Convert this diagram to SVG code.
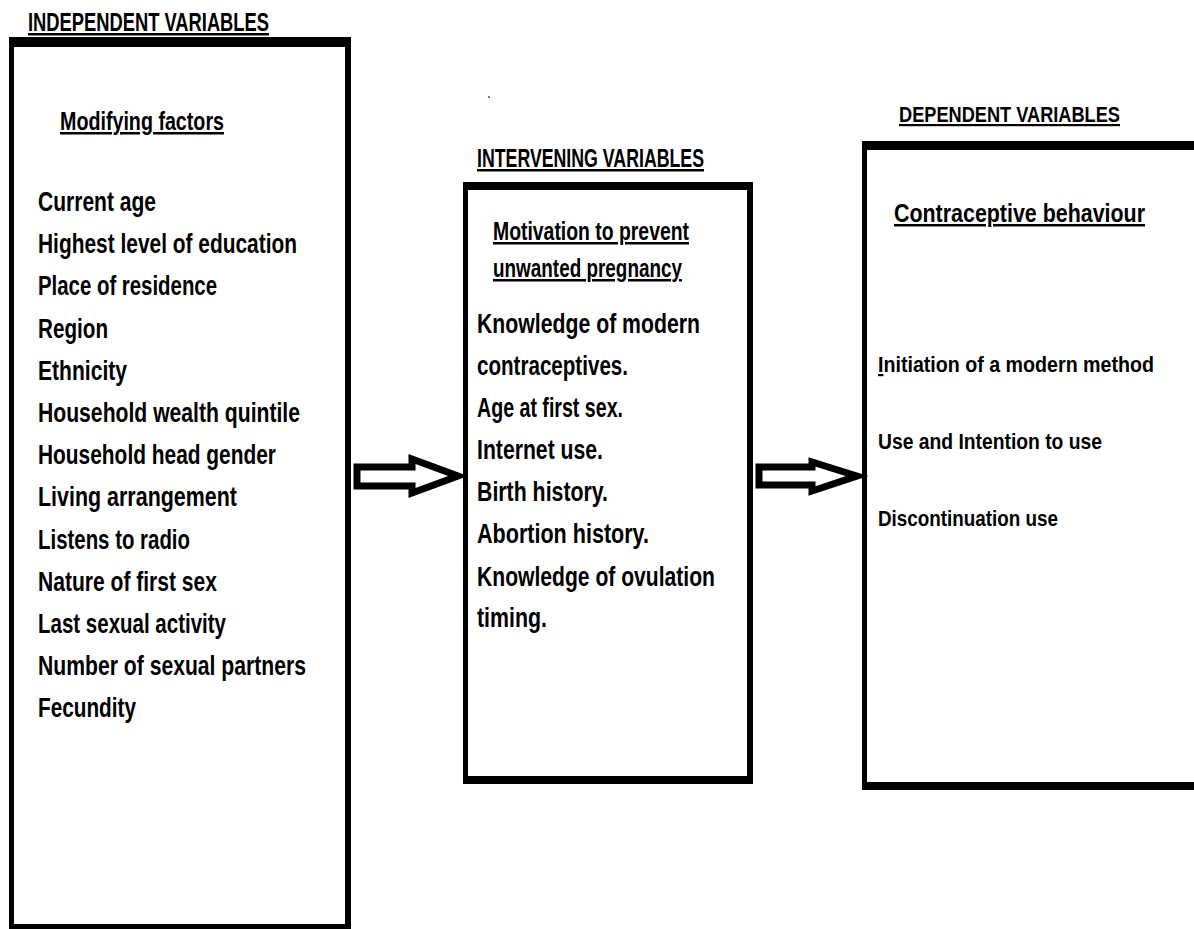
<svg xmlns="http://www.w3.org/2000/svg" width="1194" height="929" viewBox="0 0 1194 929">
<style>
text{font-family:"Liberation Sans",Arial,sans-serif;font-weight:bold;fill:#000;}
.h{font-size:25px;text-decoration:underline;}
.hr{font-size:22px;text-decoration:underline;}
.sub{font-size:25px;text-decoration:underline;}
.li{font-size:27px;}
.lr{font-size:22px;}
.frame{fill:#000;}
.inner{fill:#fff;}
.arrow{fill:#fff;stroke:#000;stroke-width:7;stroke-linejoin:miter;}
</style>
<rect width="1194" height="929" fill="#fff"/>
<g id="independent">
<text class="h" x="28" y="31" textLength="241" lengthAdjust="spacingAndGlyphs">INDEPENDENT VARIABLES</text>
<rect class="frame" x="9" y="37" width="342" height="895"/>
<rect class="inner" x="14" y="47" width="331" height="877"/>
<text class="sub" x="60" y="130" textLength="164" lengthAdjust="spacingAndGlyphs">Modifying factors</text>
<text class="li" x="38" y="211" textLength="118" lengthAdjust="spacingAndGlyphs">Current age</text>
<text class="li" x="38" y="253" textLength="259" lengthAdjust="spacingAndGlyphs">Highest level of education</text>
<text class="li" x="38" y="295" textLength="179" lengthAdjust="spacingAndGlyphs">Place of residence</text>
<text class="li" x="38" y="338" textLength="70" lengthAdjust="spacingAndGlyphs">Region</text>
<text class="li" x="38" y="380" textLength="89" lengthAdjust="spacingAndGlyphs">Ethnicity</text>
<text class="li" x="38" y="422" textLength="262" lengthAdjust="spacingAndGlyphs">Household wealth quintile</text>
<text class="li" x="38" y="464" textLength="238" lengthAdjust="spacingAndGlyphs">Household head gender</text>
<text class="li" x="38" y="506" textLength="199" lengthAdjust="spacingAndGlyphs">Living arrangement</text>
<text class="li" x="38" y="549" textLength="152" lengthAdjust="spacingAndGlyphs">Listens to radio</text>
<text class="li" x="38" y="591" textLength="179" lengthAdjust="spacingAndGlyphs">Nature of first sex</text>
<text class="li" x="38" y="633" textLength="188" lengthAdjust="spacingAndGlyphs">Last sexual activity</text>
<text class="li" x="38" y="675" textLength="268" lengthAdjust="spacingAndGlyphs">Number of sexual partners</text>
<text class="li" x="38" y="717" textLength="98" lengthAdjust="spacingAndGlyphs">Fecundity</text>
</g>
<g id="intervening">
<text class="h" x="477" y="167" textLength="227" lengthAdjust="spacingAndGlyphs">INTERVENING VARIABLES</text>
<rect class="frame" x="463" y="182" width="290" height="602"/>
<rect class="inner" x="468" y="190" width="279" height="586"/>
<text class="sub" x="493" y="240" textLength="196" lengthAdjust="spacingAndGlyphs">Motivation to prevent</text>
<text class="sub" x="493" y="277" textLength="189" lengthAdjust="spacingAndGlyphs">unwanted pregnancy</text>
<text class="li" x="477" y="333" textLength="223" lengthAdjust="spacingAndGlyphs">Knowledge of modern</text>
<text class="li" x="477" y="375" textLength="151" lengthAdjust="spacingAndGlyphs">contraceptives.</text>
<text class="li" x="477" y="417" textLength="146" lengthAdjust="spacingAndGlyphs">Age at first sex.</text>
<text class="li" x="477" y="459" textLength="126" lengthAdjust="spacingAndGlyphs">Internet use.</text>
<text class="li" x="477" y="501" textLength="131" lengthAdjust="spacingAndGlyphs">Birth history.</text>
<text class="li" x="477" y="543" textLength="172" lengthAdjust="spacingAndGlyphs">Abortion history.</text>
<text class="li" x="477" y="586" textLength="238" lengthAdjust="spacingAndGlyphs">Knowledge of ovulation</text>
<text class="li" x="477" y="627" textLength="70" lengthAdjust="spacingAndGlyphs">timing.</text>
</g>
<g id="dependent">
<text class="hr" x="899" y="122" textLength="221" lengthAdjust="spacingAndGlyphs">DEPENDENT VARIABLES</text>
<rect class="frame" x="862" y="141" width="332" height="649"/>
<rect class="inner" x="867" y="150" width="327" height="632"/>
<text class="sub" x="894" y="222" textLength="251" lengthAdjust="spacingAndGlyphs">Contraceptive behaviour</text>
<text class="lr" x="878" y="372" textLength="276" lengthAdjust="spacingAndGlyphs"><tspan text-decoration="underline">I</tspan>nitiation of a modern method</text>
<text class="lr" x="878" y="449" textLength="224" lengthAdjust="spacingAndGlyphs">Use and Intention to use</text>
<text class="lr" x="878" y="526" textLength="180" lengthAdjust="spacingAndGlyphs">Discontinuation use</text>
</g>
<g id="connectors">
<polygon class="arrow" points="357,467 412,467 412,459 458,476 412,493 412,486 357,486"/>
<polygon class="arrow" points="759,467 812,467 812,462 857,476 812,491 812,485 759,485"/>
</g>
<rect x="488" y="96" width="2" height="2" fill="#777"/>
</svg>
